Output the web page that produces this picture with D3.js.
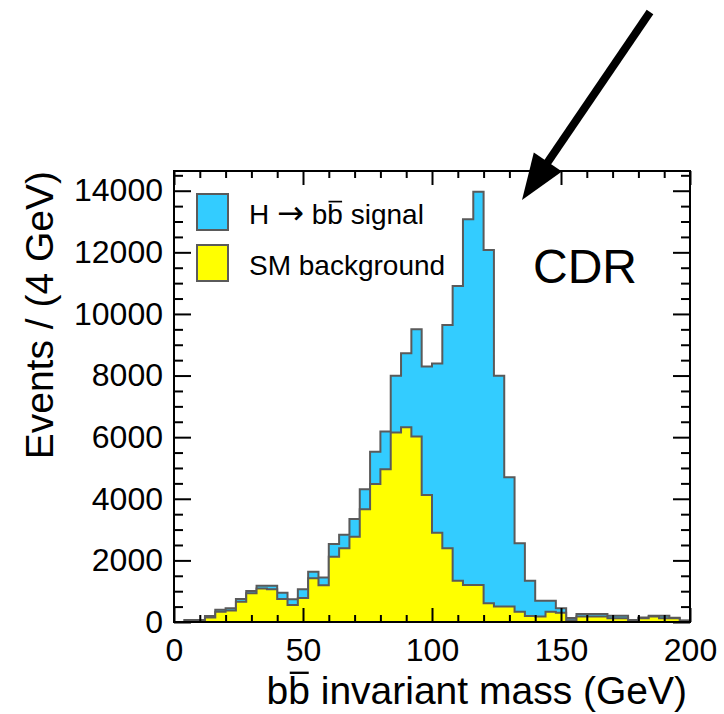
<!DOCTYPE html>
<html>
<head>
<meta charset="utf-8">
<script src="https://cdn.jsdelivr.net/npm/d3@7"></script>
<style>
  body { margin: 0; background: #fff; }
  svg text { font-family: "Liberation Sans", Arial, Helvetica, sans-serif; fill: #000; }
</style>
</head>
<body>
<div class="chart-container"></div>
<script>
//! DATA  (4 GeV bins from 0 to 200 GeV)
const BIN_WIDTH = 4;
const BIN_LOW = d3.range(0, 200, BIN_WIDTH);
const BACKGROUND = [
  0, 0, 0, 150, 335, 370, 660, 930, 1090, 1060,
  750, 550, 780, 1420, 1195, 2120, 2390, 2770, 3660, 4480,
  4955, 6150, 6320, 6020, 4120, 2900, 2390, 1340, 1200, 1200,
  605, 500, 500, 335, 195, 175, 335, 300, 60, 175,
  175, 175, 120, 120, 45, 120, 175, 120, 120, 40
];
const SIGNAL = [
  0, 65, 65, 45, 65, 75, 85, 80, 90, 120,
  200, 190, 285, 215, 250, 410, 445, 570, 650, 1050,
  1225, 1840, 2400, 3480, 4170, 5495, 7250, 9565, 11870, 12765,
  11470, 7490, 4195, 2220, 1145, 515, 355, 145, 70, 85,
  85, 85, 85, 85, 20, 30, 30, 85, 20, 10
];
const X_TICKS = [0, 50, 100, 150, 200];
const Y_TICKS = [0, 2000, 4000, 6000, 8000, 10000, 12000, 14000];
// text pieces: bar = overlined, sym = drawn with the symbol font
const LEGEND = [
  { color: '#33ccff', parts: [{ t: 'H ' }, { t: '\u2192', sym: true }, { t: ' b' }, { t: 'b', bar: true }, { t: ' signal' }] },
  { color: '#ffff00', parts: [{ t: 'SM background' }] }
];
const X_TITLE = [{ t: 'b' }, { t: 'b', bar: true }, { t: ' invariant mass (GeV)' }];
const Y_TITLE = 'Events / (4 GeV)';

//! CONSTS
const WIDTH = 724;
const HEIGHT = 714;
const FRAME = { left: 174, right: 690, top: 171, bottom: 622 };
const LINE = '#5a5a5a';

const svg = d3.select('.chart-container')
  .append('svg')
  .attr('width', WIDTH)
  .attr('height', HEIGHT);

//! SCALES
const x = d3.scaleLinear().domain([0, 200]).range([FRAME.left, FRAME.right]);
const y = d3.scaleLinear().domain([0, 14640]).range([FRAME.bottom, FRAME.top]);

//! STACK
const rows = BIN_LOW.map((lo, i) => ({ lo, background: BACKGROUND[i], signal: SIGNAL[i] }));
const stacked = d3.stack().keys(['background', 'signal'])(rows);

// one extra point so the last bin gets its width
const steps = s => [...s.map(d => ({ lo: d.data.lo, top: d[1] })),
  { lo: 200, top: s[s.length - 1][1] }];

const area = d3.area()
  .x(d => x(d.lo))
  .y0(y(0))
  .y1(d => y(d.top))
  .curve(d3.curveStepAfter);

// total (signal on top of background) first, background drawn over it
svg.append('path')
  .datum(steps(stacked[1]))
  .attr('d', area)
  .attr('fill', LEGEND[0].color)
  .attr('stroke', LINE)
  .attr('stroke-width', 2);

svg.append('path')
  .datum(steps(stacked[0]))
  .attr('d', area)
  .attr('fill', LEGEND[1].color)
  .attr('stroke', LINE)
  .attr('stroke-width', 2);

//! AXES
const minorX = d3.range(0, 201, 10).filter(v => v % 50 !== 0);
const minorY = d3.range(0, 14640, 500).filter(v => v % 2000 !== 0);
const fmt = d3.format('d');

svg.append('g')
  .attr('transform', `translate(0,${FRAME.bottom})`)
  .call(d3.axisBottom(x).tickValues(X_TICKS).tickSizeInner(-14).tickSizeOuter(0).tickPadding(16).tickFormat(fmt));
svg.append('g')
  .attr('transform', `translate(0,${FRAME.bottom})`)
  .call(d3.axisBottom(x).tickValues(minorX).tickSizeInner(-7).tickSizeOuter(0).tickFormat(''));
svg.append('g')
  .attr('transform', `translate(0,${FRAME.top})`)
  .call(d3.axisTop(x).tickValues(X_TICKS).tickSizeInner(-14).tickSizeOuter(0).tickFormat(''));
svg.append('g')
  .attr('transform', `translate(0,${FRAME.top})`)
  .call(d3.axisTop(x).tickValues(minorX).tickSizeInner(-7).tickSizeOuter(0).tickFormat(''));

svg.append('g')
  .attr('transform', `translate(${FRAME.left},0)`)
  .call(d3.axisLeft(y).tickValues(Y_TICKS).tickSizeInner(-17).tickSizeOuter(0).tickPadding(11).tickFormat(fmt));
svg.append('g')
  .attr('transform', `translate(${FRAME.left},0)`)
  .call(d3.axisLeft(y).tickValues(minorY).tickSizeInner(-9).tickSizeOuter(0).tickFormat(''));
svg.append('g')
  .attr('transform', `translate(${FRAME.right},0)`)
  .call(d3.axisRight(y).tickValues(Y_TICKS).tickSizeInner(-17).tickSizeOuter(0).tickFormat(''));
svg.append('g')
  .attr('transform', `translate(${FRAME.right},0)`)
  .call(d3.axisRight(y).tickValues(minorY).tickSizeInner(-9).tickSizeOuter(0).tickFormat(''));

svg.selectAll('.domain').remove();
svg.selectAll('.tick line').attr('stroke', '#000').attr('stroke-width', 2);
svg.selectAll('.tick text').style('font-size', '32px').attr('fill', '#000');

svg.append('rect')
  .attr('x', FRAME.left)
  .attr('y', FRAME.top)
  .attr('width', FRAME.right - FRAME.left)
  .attr('height', FRAME.bottom - FRAME.top)
  .attr('fill', 'none')
  .attr('stroke', '#000')
  .attr('stroke-width', 2);

//! TEXT WITH AN OVERLINED b
const richText = (g, parts, size, anchor) => {
  const t = g.append('text')
    .style('font-size', `${size}px`)
    .attr('text-anchor', anchor || 'start');
  parts.forEach(p => {
    const s = t.append('tspan').text(p.t);
    if (p.sym) s.style('font-family', '"DejaVu Sans", sans-serif').style('font-size', `${size * 1.15}px`);
  });
  // overlines go on after layout, from the glyph extents
  let i = 0;
  parts.forEach(p => {
    if (p.bar) {
      const node = t.node();
      const a = node.getStartPositionOfChar(i);
      const b = node.getEndPositionOfChar(i);
      g.append('line')
        .attr('x1', a.x + size * 0.04).attr('x2', b.x - size * 0.03)
        .attr('y1', a.y - size * 0.8).attr('y2', a.y - size * 0.8)
        .attr('stroke', '#000').attr('stroke-width', size * 0.06);
    }
    i += p.t.length;
  });
  return t;
};

//! TITLES
richText(svg.append('g').attr('transform', 'translate(687,704)'), X_TITLE, 39, 'end');

svg.append('text')
  .attr('transform', 'translate(53,171) rotate(-90)')
  .attr('text-anchor', 'end')
  .style('font-size', '39px')
  .text(Y_TITLE);

//! LEGEND
const legend = svg.append('g').attr('class', 'legend');
LEGEND.forEach((d, i) => {
  const row = legend.append('g').attr('transform', `translate(0,${i * 51})`);
  row.append('rect')
    .attr('x', 197).attr('y', 194)
    .attr('width', 31).attr('height', 36)
    .attr('fill', d.color)
    .attr('stroke', LINE)
    .attr('stroke-width', 2);
  richText(row.append('g').attr('transform', 'translate(249,224)'), d.parts, 28);
});

//! ANNOTATION
svg.append('text')
  .attr('x', 533)
  .attr('y', 283)
  .style('font-size', '48px')
  .text('CDR');

const ARROW = { x1: 650, y1: 12, x2: 522, y2: 200, head: 46, half: 17 };
const ang = Math.atan2(ARROW.y2 - ARROW.y1, ARROW.x2 - ARROW.x1);
const bx = ARROW.x2 - ARROW.head * Math.cos(ang);
const by = ARROW.y2 - ARROW.head * Math.sin(ang);
svg.append('line')
  .attr('x1', ARROW.x1).attr('y1', ARROW.y1)
  .attr('x2', bx + 4 * Math.cos(ang)).attr('y2', by + 4 * Math.sin(ang))
  .attr('stroke', '#000')
  .attr('stroke-width', 8);
svg.append('path')
  .attr('d', d3.line()([
    [ARROW.x2, ARROW.y2],
    [bx - ARROW.half * Math.sin(ang), by + ARROW.half * Math.cos(ang)],
    [bx + ARROW.half * Math.sin(ang), by - ARROW.half * Math.cos(ang)]
  ]) + 'Z')
  .attr('fill', '#000');
</script>
</body>
</html>
